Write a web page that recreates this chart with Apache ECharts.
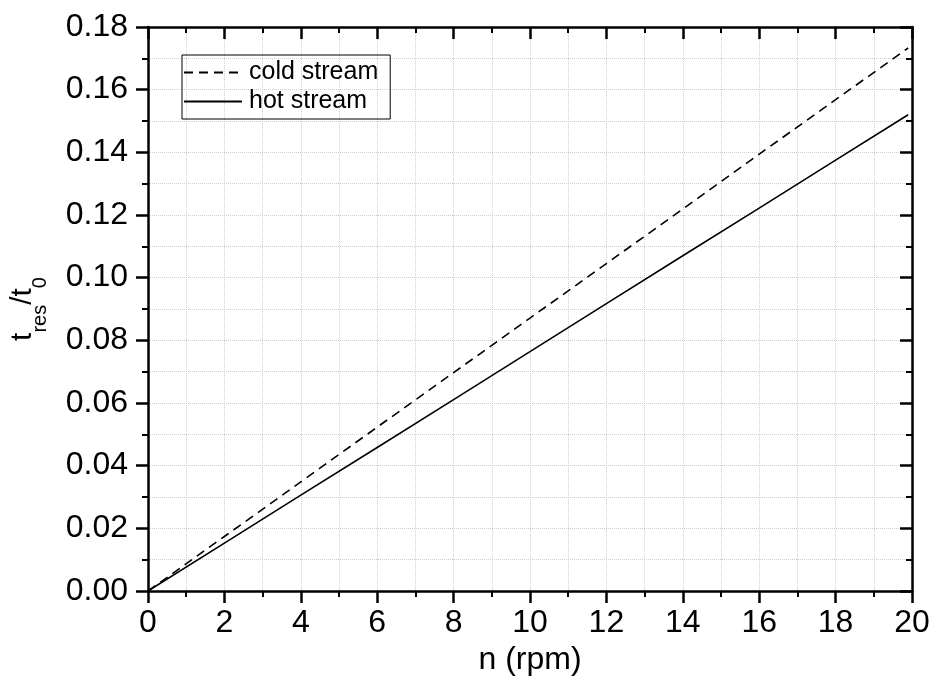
<!DOCTYPE html>
<html>
<head>
<meta charset="utf-8">
<script src="https://cdn.jsdelivr.net/npm/echarts@6/dist/echarts.min.js"></script>
<style>
    html, body { margin: 0; padding: 0; background: #fff; }
    #main { width: 933px; height: 681px; }
</style>
</head>
<body>
<div id="main"></div>
<script>
// values
var rpm = [0, 2, 4, 6, 8, 10, 12, 14, 16, 18, 19.9];
var coldStream = [0, 0.0174, 0.0348, 0.0523, 0.0697, 0.0871, 0.1045, 0.1219, 0.1394, 0.1568, 0.1733];
var hotStream = [0, 0.0153, 0.0306, 0.0458, 0.0611, 0.0764, 0.0917, 0.1070, 0.1222, 0.1375, 0.1520];

var font = 'Arial, "Liberation Sans", sans-serif';
var gridLine = { show: true, lineStyle: { color: '#cfcfcf', type: 'dotted', width: 1 } };

function pairs(xs, ys) {
    var out = [];
    for (var i = 0; i < xs.length; i++) {
        out.push([xs[i], ys[i]]);
    }
    return out;
}

var myChart = echarts.init(document.getElementById('main'));
var option = {
    animation: false,
    backgroundColor: '#fff',
    grid: { left: 147, right: 21, top: 27, bottom: 88, containLabel: false },
    legend: {
        orient: 'vertical',
        left: 182,
        top: 55,
        width: 197,
        padding: [5, 12, 5, 1],
        itemGap: 4,
        itemWidth: 58,
        itemHeight: 24,
        borderColor: '#000',
        borderWidth: 1,
        itemStyle: { opacity: 0 },
        textStyle: { fontFamily: font, fontSize: 25, color: '#000', padding: [0, 0, 0, 2] },
        data: ['cold stream', 'hot stream']
    },
    xAxis: [
        {
            type: 'value',
            min: 0,
            max: 20,
            interval: 2,
            name: 'n (rpm)',
            nameLocation: 'middle',
            nameGap: 53,
            nameTextStyle: { fontFamily: font, fontSize: 32, color: '#000' },
            axisLine: { show: true, onZero: false, lineStyle: { color: '#000', width: 2.5 } },
            axisTick: { show: true, inside: false, length: 12, lineStyle: { color: '#000', width: 2.5 } },
            minorTick: { show: true, splitNumber: 2, length: 6, lineStyle: { color: '#000', width: 2 } },
            axisLabel: { margin: 16, fontFamily: font, fontSize: 32, color: '#000' },
            splitLine: gridLine,
            minorSplitLine: gridLine
        },
        {
            type: 'value',
            position: 'top',
            min: 0,
            max: 20,
            interval: 2,
            axisLine: { show: true, onZero: false, lineStyle: { color: '#000', width: 2.5 } },
            axisTick: { show: true, inside: true, length: 12, lineStyle: { color: '#000', width: 2.5 } },
            minorTick: { show: true, splitNumber: 2, length: 6, lineStyle: { color: '#000', width: 2 } },
            axisLabel: { show: false },
            splitLine: { show: false }
        }
    ],
    yAxis: [
        {
            type: 'value',
            min: 0,
            max: 0.18,
            interval: 0.02,
            name: '{t|t}{s|res}{t|/t}{s|0}',
            nameLocation: 'middle',
            nameRotate: 90,
            nameGap: 98,
            nameTextStyle: {
                fontFamily: font,
                fontSize: 30,
                color: '#000',
                rich: {
                    t: { fontFamily: font, fontSize: 30, lineHeight: 32, color: '#000', verticalAlign: 'bottom', padding: [0, 0, 12, 0] },
                    s: { fontFamily: font, fontSize: 20, lineHeight: 20, color: '#000', verticalAlign: 'bottom' }
                }
            },
            axisLine: { show: true, onZero: false, lineStyle: { color: '#000', width: 2.5 } },
            axisTick: { show: true, inside: false, length: 12, lineStyle: { color: '#000', width: 2.5 } },
            minorTick: { show: true, splitNumber: 2, length: 6, lineStyle: { color: '#000', width: 2 } },
            axisLabel: {
                margin: 20,
                fontFamily: font,
                fontSize: 32,
                color: '#000',
                formatter: function (v) { return v.toFixed(2); }
            },
            splitLine: gridLine,
            minorSplitLine: gridLine
        },
        {
            type: 'value',
            position: 'right',
            min: 0,
            max: 0.18,
            interval: 0.02,
            axisLine: { show: true, onZero: false, lineStyle: { color: '#000', width: 2.5 } },
            axisTick: { show: true, inside: true, length: 12, lineStyle: { color: '#000', width: 2.5 } },
            minorTick: { show: true, splitNumber: 2, length: 6, lineStyle: { color: '#000', width: 2 } },
            axisLabel: { show: false },
            splitLine: { show: false }
        }
    ],
    series: [
        {
            name: 'cold stream',
            type: 'line',
            xAxisIndex: 0,
            yAxisIndex: 0,
            symbol: 'none',
            color: '#000',
            lineStyle: { color: '#000', width: 1.6, type: [9, 6] },
            data: pairs(rpm, coldStream)
        },
        {
            name: 'hot stream',
            type: 'line',
            xAxisIndex: 0,
            yAxisIndex: 0,
            symbol: 'none',
            color: '#000',
            lineStyle: { color: '#000', width: 1.6, type: 'solid' },
            data: pairs(rpm, hotStream)
        }
    ]
};
myChart.setOption(option);
</script>
</body>
</html>
